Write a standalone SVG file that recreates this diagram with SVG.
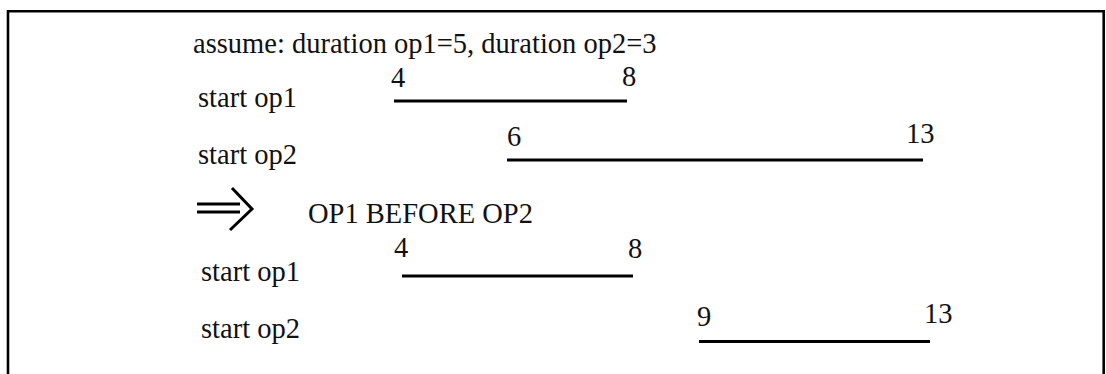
<svg xmlns="http://www.w3.org/2000/svg" width="1106" height="374" viewBox="0 0 1106 374">
<style>
text{font-family:"Liberation Serif","Times New Roman",serif;font-size:28.5px;fill:#111}
.bar{stroke:#000;stroke-width:3;fill:none}
.frame{stroke:#000;stroke-width:2.6;fill:none}
</style>
<rect width="1106" height="374" fill="#fff"/>
<path class="frame" d="M8,376 V11.3 H1103.7 V376"/>
<g id="header"><text x="193" y="53">assume: duration op1=5, duration op2=3</text></g>
<g id="row1">
<text x="391" y="87">4</text>
<text x="622" y="86">8</text>
<text x="198" y="107">start op1</text>
</g>
<g id="row2">
<text x="198" y="164">start op2</text>
<text x="507" y="146">6</text>
<text x="906" y="143">13</text>
</g>
<g id="implies">
<path class="bar" d="M197,204 H240 M197,212 H240" stroke-width="2.6"/>
<path class="bar" d="M232,188 L252,209 L230,230" stroke-width="3.2"/>
<text x="308" y="223">OP1 BEFORE OP2</text>
</g>
<g id="row3">
<text x="201" y="281">start op1</text>
<text x="394" y="257">4</text>
<text x="628" y="258">8</text>
</g>
<g id="row4">
<text x="201" y="338">start op2</text>
<text x="697" y="326">9</text>
<text x="924" y="323">13</text>
</g>
<g id="connectors">
<line class="bar" x1="394" y1="101" x2="627" y2="101"/>
<line class="bar" x1="507" y1="160" x2="923" y2="160"/>
<line class="bar" x1="402" y1="276" x2="633" y2="276"/>
<line class="bar" x1="699" y1="341.5" x2="930" y2="341.5"/>
</g>
</svg>
